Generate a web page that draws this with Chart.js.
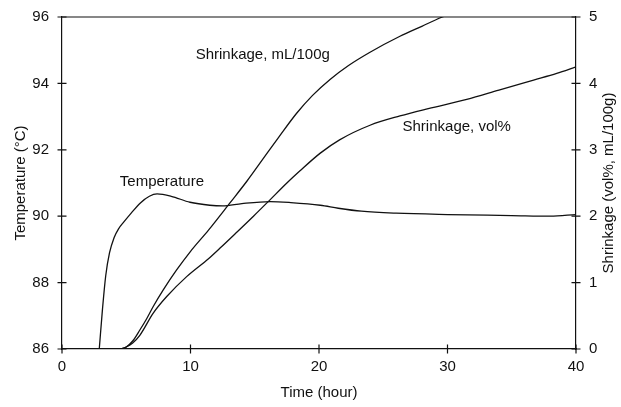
<!DOCTYPE html>
<html>
<head>
<meta charset="utf-8">
<title>Temperature and shrinkage vs time</title>
<script src="https://cdn.jsdelivr.net/npm/chart.js@4.4.1/dist/chart.umd.min.js"></script>
<style>
  html, body { margin: 0; padding: 0; background: #fff; }
  #wrap { width: 621px; height: 407px; }
</style>
</head>
<body>
<div id="wrap"><canvas id="chart" width="621" height="407"></canvas></div>
<script>
// values
const tempTime = [2.9, 3.15, 3.4, 3.7, 4.05, 4.4, 4.8, 5.4, 6.1, 6.8, 7.4, 8.5, 9.96, 11.5, 12.5, 14, 16.2, 17.8, 20.1, 21.5, 23.3, 26, 30, 35, 38, 40];
const tempValues = [86, 87.2, 88.2, 88.9, 89.35, 89.62, 89.82, 90.1, 90.4, 90.6, 90.67, 90.6, 90.42, 90.33, 90.31, 90.38, 90.44, 90.41, 90.33, 90.24, 90.15, 90.09, 90.05, 90.02, 90.0, 90.05];

const mlTime = [4.6, 5.0, 5.5, 6.07, 6.6, 7.1, 7.88, 8.92, 9.96, 11.4, 13.07, 14.4, 15.67, 16.83, 18.26, 19.5, 20.86, 22.3, 23.97, 26.3, 28, 29.6, 31];
const mlValues = [0, 0.03, 0.12, 0.29, 0.46, 0.64, 0.89, 1.19, 1.46, 1.79, 2.2, 2.53, 2.87, 3.18, 3.55, 3.82, 4.06, 4.27, 4.47, 4.71, 4.86, 5.0, 5.1];

const volTime = [4.6, 5.0, 5.5, 6.07, 7.1, 8.15, 9.7, 11.4, 12.3, 13.5, 14.9, 16.05, 17.5, 18.5, 20.1, 21.6, 23.97, 26.3, 28.5, 31.5, 34, 36.7, 38.5, 40];
const volValues = [0, 0.03, 0.09, 0.21, 0.54, 0.79, 1.09, 1.36, 1.52, 1.74, 2.0, 2.22, 2.5, 2.68, 2.95, 3.15, 3.37, 3.51, 3.62, 3.76, 3.9, 4.05, 4.15, 4.25];

// faint trace lying on the time axis at the right end
const baseTime = [27, 40];
const baseValues = [0, 0];

const xTicks = [0, 10, 20, 30, 40];
const tempTicks = [86, 88, 90, 92, 94, 96];
const shrinkTicks = [0, 1, 2, 3, 4, 5];

// in-plot labels, anchored in data coordinates
const curveLabels = [
  { text: 'Shrinkage, mL/100g', x: 10.4, y: 4.43, axis: 'y2' },
  { text: 'Shrinkage, vol%', x: 26.5, y: 3.34, axis: 'y2' },
  { text: 'Temperature', x: 4.5, y: 91.03, axis: 'y' }
];

const toPoints = (xs, ys) => xs.map((x, i) => ({ x: x, y: ys[i] }));

const FONT = "'Liberation Sans', Arial, sans-serif";
const INK = '#111';

const framePlugin = {
  id: 'frame',
  afterDraw(chart) {
    const { ctx, chartArea: { top, bottom, left, right }, scales } = chart;
    ctx.save();
    ctx.strokeStyle = INK;
    ctx.lineWidth = 1.2;

    // top border
    ctx.beginPath();
    ctx.moveTo(left, top);
    ctx.lineTo(right, top);
    ctx.stroke();

    // ticks crossing the axes
    const half = 4.5;
    ctx.beginPath();
    xTicks.forEach(v => {
      const px = scales.x.getPixelForValue(v);
      ctx.moveTo(px, bottom - half);
      ctx.lineTo(px, bottom + half);
    });
    tempTicks.forEach(v => {
      const py = scales.y.getPixelForValue(v);
      ctx.moveTo(left - half, py);
      ctx.lineTo(left + half, py);
    });
    shrinkTicks.forEach(v => {
      const py = scales.y2.getPixelForValue(v);
      ctx.moveTo(right - half, py);
      ctx.lineTo(right + half, py);
    });
    ctx.stroke();

    // curve labels
    ctx.fillStyle = INK;
    ctx.font = `15px ${FONT}`;
    ctx.textAlign = 'left';
    ctx.textBaseline = 'middle';
    curveLabels.forEach(l => {
      ctx.fillText(l.text, scales.x.getPixelForValue(l.x), scales[l.axis].getPixelForValue(l.y));
    });

    // right axis title, reading bottom to top
    ctx.save();
    ctx.translate(609, (top + bottom) / 2);
    ctx.rotate(-Math.PI / 2);
    ctx.textAlign = 'center';
    ctx.fillText('Shrinkage (vol%, mL/100g)', 0, 0);
    ctx.restore();

    ctx.restore();
  }
};

const lineStyle = {
  borderColor: INK,
  borderWidth: 1.3,
  pointRadius: 0,
  fill: false,
  cubicInterpolationMode: 'monotone'
};

// fixed box sizes so the plot area sits where the reference has it
const fixWidth = w => s => { s.width = w; s.paddingTop = 0; s.paddingBottom = 0; };

new Chart(document.getElementById('chart').getContext('2d'), {
  type: 'line',
  data: {
    datasets: [
      { label: 'Temperature', data: toPoints(tempTime, tempValues), yAxisID: 'y', ...lineStyle },
      { label: 'Shrinkage, mL/100g', data: toPoints(mlTime, mlValues), yAxisID: 'y2', ...lineStyle },
      { label: 'Shrinkage, vol%', data: toPoints(volTime, volValues), yAxisID: 'y2', ...lineStyle },
      { label: 'base', data: toPoints(baseTime, baseValues), yAxisID: 'y2', ...lineStyle, borderWidth: 2 }
    ]
  },
  options: {
    responsive: false,
    animation: false,
    devicePixelRatio: 1,
    layout: { padding: { top: 17, left: 0, right: 0, bottom: 0 } },
    plugins: {
      legend: { display: false },
      tooltip: { enabled: false }
    },
    scales: {
      x: {
        type: 'linear',
        min: 0,
        max: 40,
        afterFit: s => { s.height = 58; s.paddingLeft = 0; s.paddingRight = 0; },
        afterBuildTicks: s => { s.ticks = xTicks.map(v => ({ value: v })); },
        grid: { display: false, drawTicks: false },
        border: { display: true, color: INK, width: 1.2 },
        ticks: { color: INK, padding: 9, maxRotation: 0, font: { family: FONT, size: 15 } },
        title: { display: true, text: 'Time (hour)', color: INK, padding: { top: 0, bottom: 5 }, font: { family: FONT, size: 15 } }
      },
      y: {
        position: 'left',
        min: 86,
        max: 96,
        afterFit: fixWidth(62),
        afterBuildTicks: s => { s.ticks = tempTicks.map(v => ({ value: v })); },
        grid: { display: false, drawTicks: false },
        border: { display: true, color: INK, width: 1.2 },
        ticks: { color: INK, padding: 13, font: { family: FONT, size: 15 } },
        title: { display: true, text: 'Temperature (°C)', color: INK, padding: { top: 12, bottom: 0 }, font: { family: FONT, size: 15 } }
      },
      y2: {
        position: 'right',
        min: 0,
        max: 5,
        afterFit: fixWidth(45),
        afterBuildTicks: s => { s.ticks = shrinkTicks.map(v => ({ value: v })); },
        grid: { display: false, drawTicks: false },
        border: { display: true, color: INK, width: 1.2 },
        ticks: { color: INK, padding: 13, font: { family: FONT, size: 15 } },
        title: { display: false }
      }
    }
  },
  plugins: [framePlugin]
});
</script>
</body>
</html>
